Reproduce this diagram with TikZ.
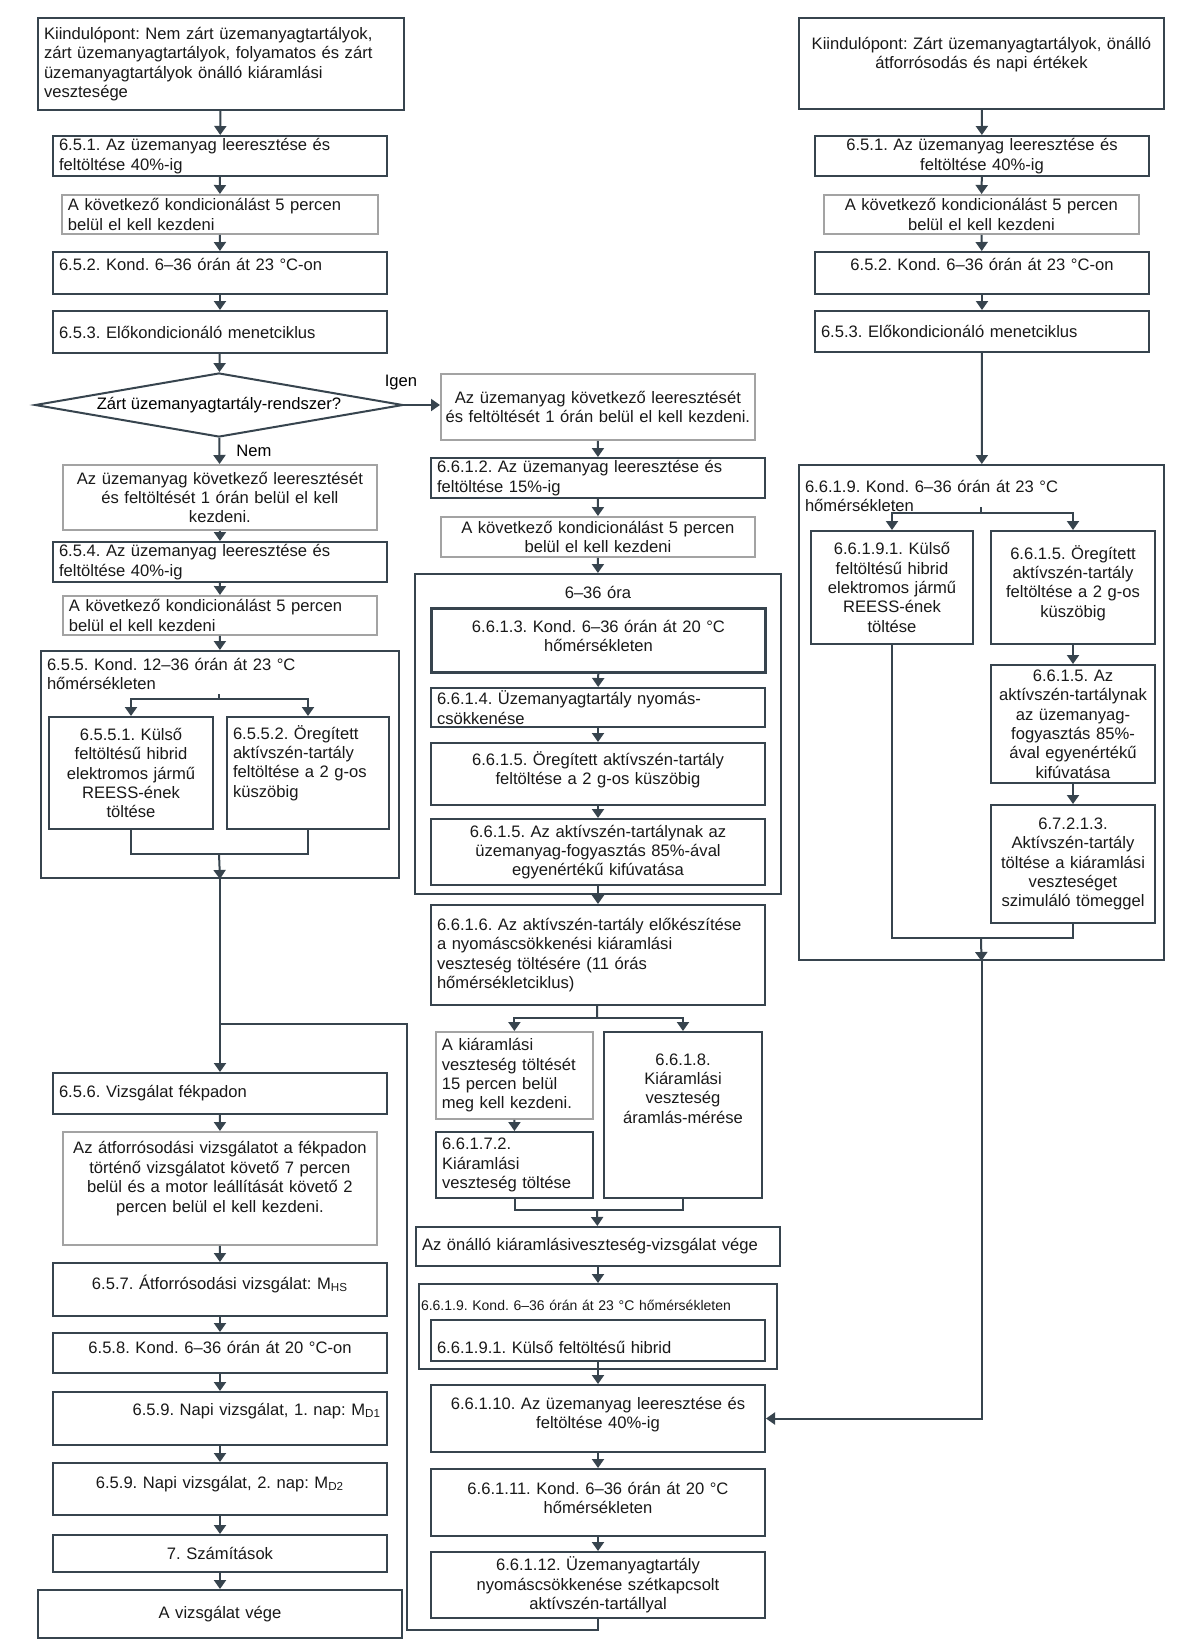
\documentclass[tikz,border=0pt]{standalone}
\usepackage{fontspec}
\setmainfont{Liberation Sans}
\usepackage{tikz}
\usetikzlibrary{arrows.meta,shapes.geometric}
\frenchspacing

\definecolor{lin}{HTML}{37444E}
\definecolor{gry}{HTML}{A3A3A3}

\tikzset{
    box/.style={draw=lin, line width=1pt, anchor=north west, inner xsep=3pt, inner ysep=2pt,
        font=\fontsize{8.3}{9.7}\selectfont, text=black!90},
    gbox/.style={box, draw=gry, line width=0.9pt},
    tight/.style={inner ysep=0.5pt},
    tp/.style 2 args={inner ysep=3pt, text height=#1, text depth=#2},
    dia/.style={diamond, draw=lin, line width=1pt, shape aspect=5.75, minimum width=184pt,
        minimum height=32pt, inner sep=0pt, font=\fontsize{8.3}{9.7}\selectfont},
    lbl/.style={inner sep=1pt, font=\fontsize{8.3}{9.7}\selectfont},
    arr/.style={draw=lin, line width=1pt, -{Triangle[width=6pt,length=4.5pt]}},
    con/.style={draw=lin, line width=1pt},
}

\begin{document}
\begin{tikzpicture}[x=0.5pt, y=-0.5pt]
    \fill[white] (0,0) rectangle (1180,1650);
    \useasboundingbox (0,0) rectangle (1180,1650);

    \node[box, text width=177pt, minimum height=46pt, align=left] (startL) at (37,17)
        {Kiindulópont: Nem zárt üzemanyagtartályok,\\zárt üzemanyagtartályok, folyamatos és zárt\\üzemanyagtartályok önálló kiáramlási\\vesztesége};
    \node[box, text width=161pt, minimum height=20pt, tight, align=left] (s651) at (52,135)
        {6.5.1. Az üzemanyag leeresztése és\\feltöltése 40\%-ig};
    \node[gbox, text width=152pt, minimum height=19.5pt, tight, align=left] (g1) at (61,194)
        {A következő kondicionálást 5 percen\\belül el kell kezdeni};
    \node[box, text width=161pt, tp={6pt}{9pt}, align=left] (s652) at (52,251)
        {6.5.2. Kond. 6--36 órán át 23 °C-on};
    \node[box, text width=161pt, minimum height=21pt, align=left] (s653) at (52,310)
        {6.5.3. Előkondicionáló menetciklus};
    \node[dia] (dia) at (219,405) {Zárt üzemanyagtartály-rendszer?};
    \node[lbl] (yes) at (401,383) {Igen};
    \node[lbl] (no) at (254,451) {Nem};
    \node[gbox, text width=151pt, minimum height=32.5pt, align=center] (g2) at (62,464)
        {Az üzemanyag következő leeresztését\\és feltöltését 1 órán belül el kell\\kezdeni.};
    \node[box, text width=161pt, minimum height=20pt, tight, align=left] (s654) at (52,541)
        {6.5.4. Az üzemanyag leeresztése és\\feltöltése 40\%-ig};
    \node[gbox, text width=151pt, minimum height=19.5pt, tight, align=left] (g3) at (62,595)
        {A következő kondicionálást 5 percen\\belül el kell kezdeni};
    \node[box, text width=173pt, tp={6.5pt}{101pt}, align=left] (c655) at (40,650)
        {6.5.5. Kond. 12--36 órán át 23 °C\\hőmérsékleten};
    \node[box, text width=76pt, minimum height=56pt, align=center] (s6551) at (48,716)
        {6.5.5.1. Külső\\feltöltésű hibrid\\elektromos jármű\\REESS-ének\\töltése};
    \node[box, text width=75pt, tp={8pt}{42pt}, align=left] (s6552) at (226,716)
        {6.5.5.2. Öregített\\aktívszén-tartály\\feltöltése a 2 g-os\\küszöbig};
    \node[box, text width=161pt, minimum height=20.5pt, align=left] (s656) at (52,1072)
        {6.5.6. Vizsgálat fékpadon};
    \node[gbox, text width=151pt, tp={8pt}{42.5pt}, align=center] (g4) at (62,1131)
        {Az átforrósodási vizsgálatot a fékpadon\\történő vizsgálatot követő 7 percen\\belül és a motor leállítását követő 2\\percen belül el kell kezdeni.};
    \node[box, text width=161pt, tp={10pt}{10.5pt}, align=center] (s657) at (52,1262)
        {6.5.7. Átforrósodási vizsgálat: M\textsubscript{HS}};
    \node[box, text width=161pt, tp={7pt}{7pt}, align=center] (s658) at (52,1332)
        {6.5.8. Kond. 6--36 órán át 20 °C-on};
    \node[box, text width=161pt, tp={8.5pt}{12pt}, align=right] (s659a) at (52,1391)
        {6.5.9. Napi vizsgálat, 1. nap: M\textsubscript{D1}};
    \node[box, text width=161pt, tp={9.5pt}{10.5pt}, align=center] (s659b) at (52,1462)
        {6.5.9. Napi vizsgálat, 2. nap: M\textsubscript{D2}};
    \node[box, text width=161pt, minimum height=18.5pt, align=center] (s7) at (52,1534)
        {7. Számítások};
    \node[box, text width=176pt, minimum height=24pt, align=center] (vege) at (37,1589)
        {A vizsgálat vége};

    \node[gbox, text width=153pt, inner xsep=2pt, minimum height=33pt, align=center] (h1) at (440,373)
        {Az üzemanyag következő leeresztését\\és feltöltését 1 órán belül el kell kezdeni.};
    \node[box, text width=161pt, minimum height=20pt, tight, align=left] (s6612) at (430,457)
        {6.6.1.2. Az üzemanyag leeresztése és\\feltöltése 15\%-ig};
    \node[gbox, text width=151pt, minimum height=20pt, tight, align=center] (g5) at (440,516)
        {A következő kondicionálást 5 percen\\belül el kell kezdeni};
    \node[box, text width=177pt, tp={9pt}{145pt}, align=center] (c636) at (414,573)
        {6--36 óra};
    \node[box, text width=161pt, tp={9pt}{17pt}, align=center, line width=1.5pt] (s6613) at (430,607)
        {6.6.1.3. Kond. 6--36 órán át 20 °C\\hőmérsékleten};
    \node[box, text width=161pt, minimum height=19.5pt, tight, align=left] (s6614) at (430,687)
        {6.6.1.4. Üzemanyagtartály nyomás-\\csökkenése};
    \node[box, text width=161pt, tp={8pt}{17pt}, align=center] (s6615) at (430,742)
        {6.6.1.5. Öregített aktívszén-tartály\\feltöltése a 2 g-os küszöbig};
    \node[box, text width=161pt, minimum height=33pt, align=center] (s6615b) at (430,818)
        {6.6.1.5. Az aktívszén-tartálynak az\\üzemanyag-fogyasztás 85\%-ával\\egyenértékű kifúvatása};
    \node[box, text width=161pt, minimum height=50pt, align=left] (s6616) at (430,904)
        {6.6.1.6. Az aktívszén-tartály előkészítése\\a nyomáscsökkenési kiáramlási\\veszteség töltésére (11 órás\\hőmérsékletciklus)};
    \node[gbox, text width=72.5pt, minimum height=43.5pt, align=left] (g6) at (435,1031)
        {A kiáramlási\\veszteség töltését\\15 percen belül\\meg kell kezdeni.};
    \node[box, text width=73pt, tp={13.5pt}{63.5pt}, align=center] (s6618) at (603,1031)
        {6.6.1.8.\\Kiáramlási\\veszteség\\áramlás-mérése};
    \node[box, text width=72.5pt, minimum height=33pt, align=left] (s66172) at (435,1131)
        {6.6.1.7.2.\\Kiáramlási\\veszteség töltése};
    \node[box, text width=176pt, minimum height=19.5pt, align=left] (vege2) at (415,1226)
        {Az önálló kiáramlásiveszteség-vizsgálat vége};
    \node[box, text width=177pt, inner xsep=1pt, tp={10pt}{26.5pt}, align=left,
        font=\fontsize{7}{8}\selectfont] (c6619) at (418,1283)
        {6.6.1.9. Kond. 6--36 órán át 23 °C hőmérsékleten};
    \node[box, text width=161pt, tp={13.5pt}{1pt}, align=left] (s66191) at (430,1319)
        {6.6.1.9.1. Külső feltöltésű hibrid};
    \node[box, text width=161pt, tp={9pt}{18.5pt}, align=center] (s66110) at (430,1384)
        {6.6.1.10. Az üzemanyag leeresztése és\\feltöltése 40\%-ig};
    \node[box, text width=161pt, tp={9.5pt}{18pt}, align=center] (s66111) at (430,1468)
        {6.6.1.11. Kond. 6--36 órán át 20 °C\\hőmérsékleten};
    \node[box, text width=161pt, minimum height=33pt, align=center] (s66112) at (430,1551)
        {6.6.1.12. Üzemanyagtartály\\nyomáscsökkenése szétkapcsolt\\aktívszén-tartállyal};

    \node[box, text width=176.5pt, tp={12.5pt}{27pt}, align=center] (startR) at (798,17)
        {Kiindulópont: Zárt üzemanyagtartályok, önálló\\átforrósodás és napi értékek};
    \node[box, text width=161pt, minimum height=20pt, tight, align=center] (s651R) at (814,135)
        {6.5.1. Az üzemanyag leeresztése és\\feltöltése 40\%-ig};
    \node[gbox, text width=151.5pt, minimum height=19.5pt, tight, align=center] (gR) at (823,194)
        {A következő kondicionálást 5 percen\\belül el kell kezdeni};
    \node[box, text width=161pt, tp={6pt}{9pt}, align=center] (s652R) at (814,251)
        {6.5.2. Kond. 6--36 órán át 23 °C-on};
    \node[box, text width=161pt, minimum height=20.5pt, align=left] (s653R) at (814,310)
        {6.5.3. Előkondicionáló menetciklus};
    \node[box, text width=176.5pt, tp={10.5pt}{231pt}, align=left] (cR) at (798,464)
        {6.6.1.9. Kond. 6--36 órán át 23 °C\\hőmérsékleten};
    \node[box, text width=75pt, minimum height=56.5pt, align=center] (s66191R) at (810,530)
        {6.6.1.9.1. Külső\\feltöltésű hibrid\\elektromos jármű\\REESS-ének\\töltése};
    \node[box, text width=76pt, tp={11pt}{39.5pt}, align=center] (s6615R) at (990,530)
        {6.6.1.5. Öregített\\aktívszén-tartály\\feltöltése a 2 g-os\\küszöbig};
    \node[box, text width=76pt, minimum height=59pt, tight, align=center] (s6615bR) at (990,664)
        {6.6.1.5. Az\\aktívszén-tartálynak\\az üzemanyag-\\fogyasztás 85\%-\\ával egyenértékű\\kifúvatása};
    \node[box, text width=76pt, minimum height=59pt, align=center] (s67213R) at (990,804)
        {6.7.2.1.3.\\Aktívszén-tartály\\töltése a kiáramlási\\veszteséget\\szimuláló tömeggel};

    \coordinate (sp1) at (219,694);
    \coordinate (mg1) at (219,854);
    \coordinate (j1) at (219,1024);
    \coordinate (lp) at (407,1630);
    \coordinate (sp2) at (597,1018);
    \coordinate (mg2) at (597,1210);
    \coordinate (sp3) at (981,507);
    \coordinate (mg3) at (981,938);

    \draw[arr] (startL) -- (s651);
    \draw[arr] (s651) -- (g1);
    \draw[arr] (g1) -- (s652);
    \draw[arr] (s652) -- (s653);
    \draw[arr] (s653) -- (dia);
    \draw[arr] (dia.east) -- (dia.east -| h1.west);
    \draw[arr] (dia) -- (g2);
    \draw[arr] (g2) -- (s654);
    \draw[arr] (s654) -- (g3);
    \draw[arr] (g3) -- (c655);
    \draw[arr] (sp1) -- ++(0,5) -| (s6551);
    \draw[arr] (sp1) -- ++(0,5) -| (s6552);
    \draw[con] (s6551) |- (mg1);
    \draw[con] (s6552) |- (mg1);
    \draw[arr] (mg1) -- (c655.south);
    \draw[arr] (c655.south) -- (s656);
    \draw[arr] (s656) -- (g4);
    \draw[arr] (g4) -- (s657);
    \draw[arr] (s657) -- (s658);
    \draw[arr] (s658) -- (s659a);
    \draw[arr] (s659a) -- (s659b);
    \draw[arr] (s659b) -- (s7);
    \draw[arr] (s7) -- (vege);

    \draw[arr] (h1) -- (s6612);
    \draw[arr] (s6612) -- (g5);
    \draw[arr] (g5) -- (c636);
    \draw[arr] (s6613) -- (s6614);
    \draw[arr] (s6614) -- (s6615);
    \draw[arr] (s6615) -- (s6615b);
    \draw[arr] (s6615b) -- (s6616);
    \draw[con] (s6616) -- (sp2);
    \draw[arr] (sp2) -| (g6);
    \draw[arr] (sp2) -| (s6618);
    \draw[arr] (g6) -- (s66172);
    \draw[con] (s66172) |- (mg2);
    \draw[con] (s6618) |- (mg2);
    \draw[arr] (mg2) -- (vege2);
    \draw[arr] (vege2) -- (c6619);
    \draw[arr] (s66191) -- (s66110);
    \draw[arr] (s66110) -- (s66111);
    \draw[arr] (s66111) -- (s66112);
    \draw[con] (s66112) |- (lp) |- (j1);

    \draw[arr] (startR) -- (s651R);
    \draw[arr] (s651R) -- (gR);
    \draw[arr] (gR) -- (s652R);
    \draw[arr] (s652R) -- (s653R);
    \draw[arr] (s653R) -- (cR);
    \draw[arr] (sp3) -- ++(0,6) -| (s66191R);
    \draw[arr] (sp3) -- ++(0,6) -| (s6615R);
    \draw[arr] (s6615R) -- (s6615bR);
    \draw[arr] (s6615bR) -- (s67213R);
    \draw[con] (s66191R) |- (mg3);
    \draw[con] (s67213R) |- (mg3);
    \draw[arr] (mg3) -- (cR.south);
    \draw[arr] (cR.south) |- (s66110);
\end{tikzpicture}
\end{document}
